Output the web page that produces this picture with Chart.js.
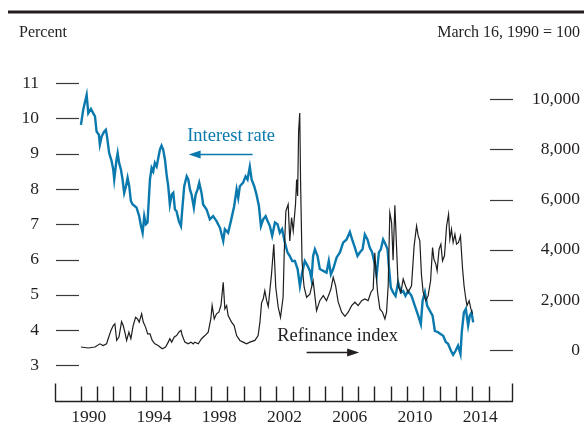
<!DOCTYPE html>
<html><head><meta charset="utf-8">
<script src="https://cdn.jsdelivr.net/npm/chart.js@4"></script>
<style>html,body{margin:0;padding:0;background:#fff}#wrap{width:584px;height:428px}</style>
</head><body><div id="wrap"><canvas id="c" width="584" height="428"></canvas></div>
<script>
// ---- data ----
const rateYears = [1990.02,1990.16,1990.37,1990.47,1990.63,1990.77,1990.88,1990.98,1991.12,1991.18,1991.29,1991.45,1991.55,1991.63,1991.75,1991.9,1992.0,1992.06,1992.2,1992.27,1992.36,1992.47,1992.57,1992.67,1992.78,1992.88,1992.98,1993.08,1993.19,1993.33,1993.43,1993.59,1993.7,1993.8,1993.9,1994.0,1994.1,1994.25,1994.35,1994.45,1994.55,1994.66,1994.76,1994.86,1994.96,1995.06,1995.17,1995.27,1995.37,1995.47,1995.58,1995.68,1995.78,1995.88,1996.02,1996.15,1996.23,1996.35,1996.5,1996.6,1996.7,1996.8,1996.94,1997.05,1997.17,1997.27,1997.41,1997.51,1997.72,1997.92,1998.12,1998.33,1998.54,1998.74,1998.84,1999.04,1999.21,1999.41,1999.56,1999.66,1999.76,1999.96,2000.11,2000.23,2000.37,2000.48,2000.64,2000.78,2000.93,2001.05,2001.19,2001.34,2001.46,2001.6,2001.74,2001.91,2002.07,2002.21,2002.35,2002.52,2002.68,2002.82,2002.97,2003.13,2003.3,2003.44,2003.58,2003.74,2003.91,2004.05,2004.15,2004.25,2004.36,2004.52,2004.66,2004.87,2005.07,2005.21,2005.34,2005.48,2005.69,2005.89,2006.09,2006.3,2006.5,2006.64,2006.81,2006.97,2007.11,2007.28,2007.42,2007.58,2007.72,2007.87,2008.03,2008.14,2008.28,2008.4,2008.54,2008.69,2008.81,2008.89,2009.01,2009.15,2009.3,2009.46,2009.63,2009.77,2009.91,2010.07,2010.28,2010.48,2010.69,2010.85,2010.96,2011.1,2011.24,2011.4,2011.57,2011.71,2011.91,2012.06,2012.22,2012.38,2012.52,2012.69,2012.83,2012.99,2013.13,2013.28,2013.36,2013.49,2013.61,2013.75,2013.85,2013.96,2014.06];
const rateValues = [9.82,10.25,10.67,10.15,10.27,10.15,10.06,9.63,9.54,9.26,9.49,9.63,9.68,9.45,9.02,8.79,8.55,8.27,8.83,9.02,8.74,8.55,8.27,7.89,8.08,8.32,8.08,7.66,7.56,7.51,7.47,7.23,6.95,6.76,7.23,7.0,7.05,8.27,8.6,8.5,8.74,8.64,8.88,9.12,9.23,9.12,8.83,8.41,8.08,7.56,7.84,7.89,7.42,7.37,7.09,6.95,7.42,8.08,8.36,8.27,7.99,7.84,7.47,7.84,7.99,8.18,7.89,7.56,7.42,7.14,7.23,7.09,6.9,6.53,6.86,6.76,7.09,7.51,7.99,7.75,8.08,8.18,8.36,8.27,8.63,8.27,8.08,7.84,7.51,6.95,7.14,7.23,7.09,6.95,6.67,7.05,7.0,6.76,6.86,6.48,6.2,6.1,5.96,5.96,5.73,5.25,5.63,5.96,5.82,5.68,5.44,6.1,6.29,6.1,5.73,5.68,5.63,5.96,5.58,5.73,6.06,6.2,6.48,6.57,6.78,6.57,6.34,6.1,6.2,6.29,6.71,6.57,6.34,6.2,5.87,5.54,6.2,6.29,6.57,6.43,6.29,5.82,5.21,5.07,4.97,5.35,5.07,5.11,4.97,5.11,4.97,4.69,4.41,4.17,4.83,5.07,4.69,4.55,4.41,3.98,3.94,3.89,3.84,3.66,3.61,3.42,3.3,3.42,3.56,3.32,3.94,4.5,4.6,4.13,4.41,4.5,4.22];
const refiYears = [1990.02,1990.47,1990.88,1991.18,1991.38,1991.59,1991.69,1991.86,1992.0,1992.1,1992.21,1992.35,1992.51,1992.61,1992.71,1992.82,1992.96,1993.08,1993.22,1993.37,1993.49,1993.59,1993.74,1993.84,1993.98,1994.11,1994.25,1994.39,1994.55,1994.75,1995.0,1995.21,1995.37,1995.47,1995.58,1995.74,1995.88,1996.02,1996.15,1996.23,1996.39,1996.59,1996.76,1996.9,1997.0,1997.21,1997.41,1997.62,1997.82,1997.98,1998.06,1998.19,1998.33,1998.47,1998.6,1998.74,1998.84,1998.95,1999.04,1999.25,1999.41,1999.56,1999.76,1999.96,2000.17,2000.37,2000.68,2000.88,2000.99,2001.09,2001.19,2001.29,2001.4,2001.5,2001.7,2001.84,2001.96,2002.11,2002.25,2002.41,2002.48,2002.58,2002.72,2002.82,2002.93,2003.03,2003.17,2003.24,2003.3,2003.36,2003.43,2003.48,2003.57,2003.64,2003.7,2003.85,2004.05,2004.25,2004.46,2004.66,2004.87,2005.07,2005.23,2005.34,2005.48,2005.63,2005.78,2006.0,2006.2,2006.4,2006.61,2006.81,2007.01,2007.22,2007.42,2007.62,2007.79,2007.93,2008.03,2008.14,2008.2,2008.34,2008.5,2008.65,2008.75,2008.85,2008.95,2009.06,2009.15,2009.26,2009.36,2009.46,2009.63,2009.77,2009.91,2010.07,2010.28,2010.44,2010.59,2010.69,2010.79,2010.89,2010.99,2011.16,2011.3,2011.45,2011.57,2011.65,2011.77,2011.85,2011.97,2012.08,2012.18,2012.3,2012.43,2012.55,2012.63,2012.73,2012.83,2012.94,2013.04,2013.16,2013.28,2013.41,2013.5,2013.61,2013.68,2013.81,2013.92,2014.02];
const refiValues = [136,97,136,262,194,262,466,796,990,1058,398,534,1145,990,728,398,728,466,990,1320,1252,1126,1455,1126,927,660,660,398,262,194,68,136,330,466,330,534,592,728,796,592,330,262,330,262,330,262,466,592,728,1252,1785,1252,1455,1523,1785,2707,1650,1785,1388,1126,990,592,398,330,262,330,398,592,1126,1892,2047,2377,1979,1747,3037,4226,2513,1717,1320,2115,3897,5544,5810,4357,5283,4753,5810,6800,6142,8713,9441,6734,3561,2911,2513,2115,2241,2775,1582,1979,2178,1979,2241,2443,2907,2571,1941,1520,1358,1520,1782,1917,1782,1980,2047,1980,2313,2443,3881,2814,2313,1650,1520,1256,1520,2574,5481,5085,3590,5770,4159,2574,2313,2840,2574,2313,2574,4159,4950,4555,4357,3008,2329,1980,2178,2772,4095,3632,3434,3168,4028,4226,3564,3763,4950,5414,4424,4819,4293,4622,4226,4293,4555,3236,2574,2047,1782,1980,1651,1454];
const xLabelYears = [1990,1994,1998,2002,2006,2010,2014];
const yearTickMarks = [1990,1991,1992,1993,1994,1995,1996,1997,1998,1999,2000,2001,2002,2003,2004,2005,2006,2007,2008,2009,2010,2011,2012,2013,2014,2015];
const leftTicks = [3,4,5,6,7,8,9,10,11];
const rightTicks = [0,2000,4000,6000,8000,10000];
const leftTitle = 'Percent';
const rightTitle = 'March 16, 1990 = 100';
const rateLabel = 'Interest rate';
const refiLabel = 'Refinance index';

// ---- styles & layout ----
const FONT = '"Liberation Serif", "Times New Roman", serif';
const BLUE = '#0a79ad';
const INK = '#231f20';
// annotation anchors in data units (x: year, y: left-axis percent)
const rateText = {x: 1996.53, y: 9.35};
const rateArrow = {from: 2000.54, to: 1996.62, y: 8.99};
const refiText = {x: 2002.05, y: 3.70};
const refiArrow = {from: 2003.85, to: 2007.07, y: 3.37};

function line(ctx, x1, y1, x2, y2) { ctx.beginPath(); ctx.moveTo(x1, y1); ctx.lineTo(x2, y2); ctx.stroke(); }
function arrow(ctx, x1, x2, y, color) {
  const dir = Math.sign(x2 - x1), head = 12, hw = 4;
  ctx.strokeStyle = color; ctx.fillStyle = color; ctx.lineWidth = 1.3;
  line(ctx, x1, y, x2 - dir * head * 0.8, y);
  ctx.beginPath(); ctx.moveTo(x2, y); ctx.lineTo(x2 - dir * head, y - hw); ctx.lineTo(x2 - dir * head, y + hw); ctx.closePath(); ctx.fill();
}

const deco = {
  id: 'deco',
  afterDraw(chart) {
    const {ctx, chartArea: a, scales: {x, yL, yR}} = chart;
    ctx.save();
    ctx.fillStyle = INK; ctx.fillRect(8, 10.5, 576, 3);
    ctx.font = '16px ' + FONT; ctx.textBaseline = 'alphabetic';
    ctx.textAlign = 'left'; ctx.fillText(leftTitle, 19, 37);
    ctx.textAlign = 'right'; ctx.fillText(rightTitle, 580, 37);
    ctx.strokeStyle = '#3a3a3a'; ctx.lineWidth = 1.2;
    leftTicks.forEach(v => { const y = Math.round(yL.getPixelForValue(v)) + 0.5; line(ctx, a.left + 1, y, a.left + 24, y); });
    rightTicks.forEach(v => { const y = Math.round(yR.getPixelForValue(v)) + 0.5; line(ctx, a.right - 23, y, a.right, y); });
    ctx.strokeStyle = INK; ctx.lineWidth = 1.4;
    const yb = Math.round(a.bottom) - 0.5;
    line(ctx, a.left, yb, a.right, yb);
    yearTickMarks.forEach(v => { const xp = Math.round(x.getPixelForValue(v)) + 0.5; line(ctx, xp, yb, xp, yb - 15); });
    line(ctx, Math.round(a.left) + 0.5, yb, Math.round(a.left) + 0.5, yb - 18);
    line(ctx, Math.round(a.right) - 0.5, yb, Math.round(a.right) - 0.5, yb - 18);
    ctx.font = '18.5px ' + FONT; ctx.textAlign = 'left';
    ctx.fillStyle = BLUE; ctx.fillText(rateLabel, x.getPixelForValue(rateText.x), yL.getPixelForValue(rateText.y));
    arrow(ctx, x.getPixelForValue(rateArrow.from), x.getPixelForValue(rateArrow.to), Math.round(yL.getPixelForValue(rateArrow.y)) + 0.5, BLUE);
    ctx.fillStyle = INK; ctx.fillText(refiLabel, x.getPixelForValue(refiText.x), yL.getPixelForValue(refiText.y));
    arrow(ctx, x.getPixelForValue(refiArrow.from), x.getPixelForValue(refiArrow.to), Math.round(yL.getPixelForValue(refiArrow.y)) + 0.5, INK);
    ctx.restore();
  }
};

const tickFont = {family: FONT, size: 17.5};
new Chart(document.getElementById('c'), {
  type: 'line',
  data: {datasets: [
    {label: refiLabel, data: refiYears.map((x, i) => ({x, y: refiValues[i]})), yAxisID: 'yR', borderColor: '#1e1e1e', borderWidth: 1.2, pointRadius: 0, tension: 0, order: 0},
    {label: rateLabel, data: rateYears.map((x, i) => ({x, y: rateValues[i]})), yAxisID: 'yL', borderColor: BLUE, borderWidth: 2.4, pointRadius: 0, tension: 0, order: 1}
  ]},
  options: {
    responsive: false, animation: false, devicePixelRatio: 1,
    layout: {padding: {top: 63, right: 4, left: 0, bottom: 0}},
    plugins: {legend: {display: false}, tooltip: {enabled: false}},
    scales: {
      x: {type: 'linear', min: 1988.43, max: 2016.5,
        grid: {display: false, drawTicks: false}, border: {display: false},
        afterBuildTicks: s => { s.ticks = xLabelYears.map(v => ({value: v + 0.5})); },
        afterFit: s => { s.height = 25; },
        ticks: {autoSkip: false, maxRotation: 0, padding: 5, color: INK, font: tickFont, callback: v => String(Math.floor(v))}},
      yL: {type: 'linear', position: 'left', min: 1.975, max: 11.573,
        grid: {display: false, drawTicks: false}, border: {display: false},
        afterBuildTicks: s => { s.ticks = leftTicks.map(v => ({value: v})); },
        afterFit: s => { s.width = 55; },
        ticks: {padding: 16, color: INK, font: tickFont, callback: v => String(v)}},
      yR: {type: 'linear', position: 'right', min: -2032, max: 11434,
        grid: {display: false, drawTicks: false}, border: {display: false},
        afterBuildTicks: s => { s.ticks = rightTicks.map(v => ({value: v})); },
        afterFit: s => { s.width = 67; },
        ticks: {crossAlign: 'far', color: INK, font: tickFont, callback: v => v.toLocaleString('en-US')}}
    }
  },
  plugins: [deco]
});
</script></body></html>
